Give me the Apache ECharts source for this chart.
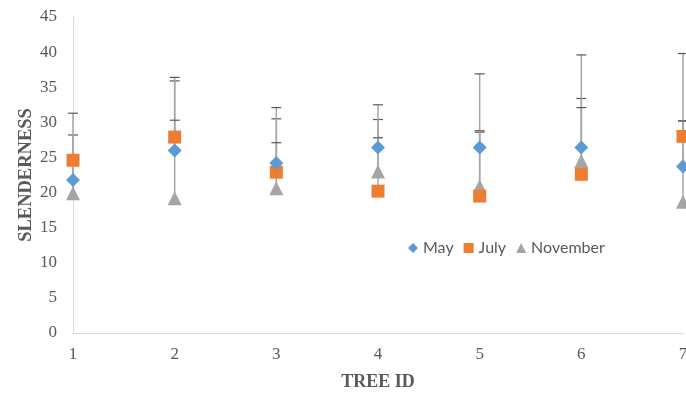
<!DOCTYPE html>
<html><head><meta charset="utf-8">
<script src="https://cdn.jsdelivr.net/npm/echarts@6/dist/echarts.min.js"></script>
<style>html,body{margin:0;padding:0;background:#fff}#c{width:686px;height:396px}</style>
</head><body><div id="c"></div>
<script>
var treeIds = [1, 2, 3, 4, 5, 6, 7];
var mayValues = [21.8, 26.0, 24.2, 26.4, 26.4, 26.4, 23.7];
var julyValues = [24.6, 27.9, 22.9, 20.2, 19.5, 22.6, 28.0];
var novValues = [19.9, 19.2, 20.6, 23.0, 20.9, 24.5, 18.7];
var mayUpper = [28.2, 35.9, 30.5, 30.4, 28.6, 33.4, 30.2];
var julyUpper = [31.3, 36.4, 32.1, 32.5, 36.9, 39.6, 39.8];
var novUpper = [24.6, 30.3, 27.1, 27.8, 28.8, 32.1, 30.2];
var yTicks = [0, 5, 10, 15, 20, 25, 30, 35, 40, 45];

var chart = echarts.init(document.getElementById('c'));
function pts(vals){ return treeIds.map(function(t,i){ return [t, vals[i]]; }); }
function errs(vals, up){ return treeIds.map(function(t,i){ return [t, vals[i], up[i]]; }); }
function renderErr(params, api){
  var x = api.value(0), lo = api.value(1), hi = api.value(2);
  var p0 = api.coord([x, lo]), p1 = api.coord([x, hi]);
  return {type:'group', children:[
    {type:'line', shape:{x1:p0[0], y1:p0[1], x2:p1[0], y2:p1[1]}, style:{stroke:'#a6a6a6', lineWidth:1.5}},
    {type:'line', shape:{x1:p1[0]-5, y1:p1[1], x2:p1[0]+5, y2:p1[1]}, style:{stroke:'#595959', lineWidth:1.2}}
  ]};
}
var serif = '"Liberation Serif", "Times New Roman", serif';
var option = {
  animation:false,
  grid:{left:73, right:3, top:17, bottom:63, outerBoundsMode:'none', containLabel:false},
  legend:{
    data:[{name:'May', icon:'diamond'},{name:'July', icon:'rect'},{name:'November', icon:'triangle'}],
    left:403, top:235, itemWidth:10, itemHeight:10, itemGap:10,
    textStyle:{fontFamily:'Lato, "Open Sans", sans-serif', fontSize:16, color:'#595959'}
  },
  xAxis:{type:'value', min:1, max:7, interval:1,
    name:'TREE ID', nameLocation:'middle', nameGap:40, nameMoveOverlap:false,
    nameTextStyle:{fontFamily:serif, fontWeight:'bold', fontSize:18, color:'#595959'},
    axisLine:{lineStyle:{color:'#d9d9d9'}}, axisTick:{show:false}, splitLine:{show:false},
    axisLabel:{fontFamily:serif, fontSize:17, color:'#595959', margin:13}
  },
  yAxis:{type:'value', min:0, max:45, interval:5,
    name:'SLENDERNESS', nameLocation:'middle', nameGap:37, nameRotate:90, nameMoveOverlap:false,
    nameTextStyle:{fontFamily:serif, fontWeight:'bold', fontSize:18.5, color:'#595959'},
    axisLine:{show:true, lineStyle:{color:'#d9d9d9'}}, axisTick:{show:false}, splitLine:{show:false},
    axisLabel:{fontFamily:serif, fontSize:17, color:'#595959', margin:16,
      formatter:function(v){ return yTicks.indexOf(v) >= 0 ? String(v) : ''; }}
  },
  series:[
    {type:'custom', name:'errMay', renderItem:renderErr, data:errs(mayValues, mayUpper), z:1, clip:false, silent:true},
    {type:'custom', name:'errJuly', renderItem:renderErr, data:errs(julyValues, julyUpper), z:1, clip:false, silent:true},
    {type:'custom', name:'errNov', renderItem:renderErr, data:errs(novValues, novUpper), z:1, clip:false, silent:true},
    {type:'scatter', name:'November', symbol:'triangle', symbolSize:14, itemStyle:{color:'#a5a5a5', opacity:1}, data:pts(novValues), z:3, clip:false},
    {type:'scatter', name:'July', symbol:'rect', symbolSize:13, itemStyle:{color:'#ed7d31', opacity:1}, data:pts(julyValues), z:4, clip:false},
    {type:'scatter', name:'May', symbol:'diamond', symbolSize:14, itemStyle:{color:'#5b9bd5', opacity:1}, data:pts(mayValues), z:5, clip:false}
  ]
};
chart.setOption(option);
</script></body></html>
